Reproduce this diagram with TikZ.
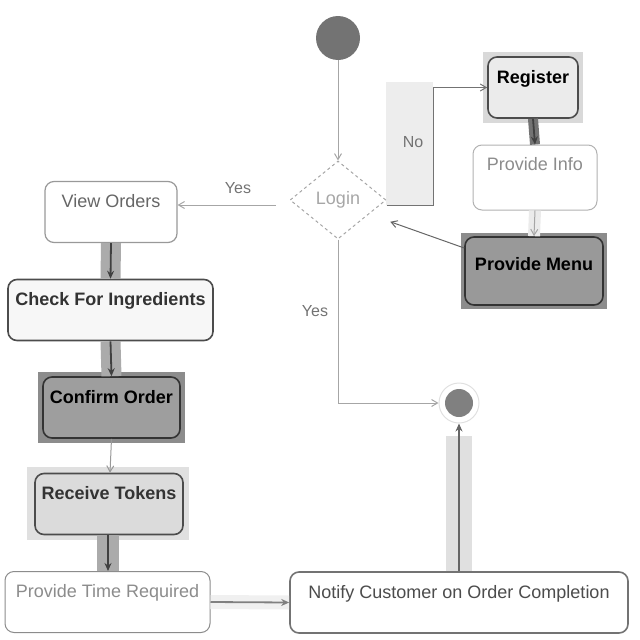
\documentclass[tikz,border=0pt]{standalone}
\usepackage{fontspec}
\setmainfont{Liberation Sans}
\usetikzlibrary{shapes.geometric,backgrounds,arrows.meta}

\tikzset{
  act/.style={rectangle, rounded corners=9pt, draw=black!70, line width=1.6pt,
    fill=white, inner sep=0pt, text height=26pt, text depth=35pt,
    font=\fontsize{18}{20}\selectfont},
  faint/.style={act, draw=black!30, text=black!45, line width=1pt},
  strong/.style={act, font=\fontsize{18}{20}\selectfont\bfseries},
  flow/.style={draw=black!75, line width=1.8pt, -{Stealth[length=8pt,width=7pt]}},
  thinflow/.style={draw=black!35, line width=1pt, -{Straight Barb[length=6pt,width=7pt]}},
  band/.style 2 args={preaction={draw=#1, line width=#2, -}},
  lbl/.style={text=black!55, font=\fontsize{16}{18}\selectfont},
}

\begin{document}
\begin{tikzpicture}[x=1pt,y=-1pt]
\useasboundingbox (0,0) rectangle (640,640);

% start and decision
\node[circle, fill=black!55, minimum size=44pt, inner sep=0pt] (start) at (338,38) {};
\node[diamond, draw=black!35, dashed, line width=1pt, minimum width=96pt, minimum height=78pt,
      inner sep=0pt, text=black!35, font=\fontsize{18}{20}\selectfont] (login) at (338,200) {Login};

% registration branch
\node[strong, fill=black!8, minimum width=90pt] (register) at (533,87.5) {Register};
\node[faint, minimum width=124pt, text height=25pt, text depth=40pt] (info) at (535,177.5) {Provide Info};
\node[strong, fill=black!40, draw=black!80, minimum width=138pt, text height=33pt, text depth=35pt] (menu) at (534,271) {Provide Menu};

% staff side
\node[act, draw=black!40, text=black!60, line width=1.2pt, minimum width=132pt] (view) at (111,212) {View Orders};
\node[strong, fill=black!3, text=black!80, minimum width=205pt] (check) at (110.5,310) {Check For Ingredients};
\node[strong, fill=black!38, draw=black!80, minimum width=137pt] (confirm) at (111.5,407.5) {Confirm Order};
\node[strong, fill=black!14, text=black!80, minimum width=148pt] (tokens) at (109,504) {Receive Tokens};
\node[faint, draw=black!45, minimum width=205pt] (time) at (107.5,602) {Provide Time Required};
\node[act, draw=black!55, text=black!70, minimum width=338pt] (notify) at (459,602.5) {Notify Customer on Order Completion};

% final node
\node[circle, draw=black!12, line width=1pt, minimum size=40pt, inner sep=0pt] (final) at (459,403) {};
\node[circle, fill=black!50, minimum size=28pt, inner sep=0pt] (finaldot) at (final) {};

% selection shading
\begin{scope}[on background layer]
\fill[black!15] ([shift={(-4,-4)}]register.north west) rectangle ([shift={(4,4)}]register.south east);
\fill[black!45] ([shift={(-3,-3)}]menu.north west) rectangle ([shift={(3,3)}]menu.south east);
\fill[black!45] ([shift={(-4,-4)}]confirm.north west) rectangle ([shift={(4,4)}]confirm.south east);
\fill[black!12] ([shift={(-7,-6)}]tokens.north west) rectangle ([shift={(5,5)}]tokens.south east);
\fill[black!7] (386,82) rectangle (433,205);
\end{scope}

% connectors
\draw[thinflow] (start) -- (login.north);
\draw[thinflow, draw=black!55] ([yshift=-5pt]login.east) -- ++(47,0) |- (register.west);
\node[lbl] (no) at (413,142) {No};
\draw[flow, band={black!55}{10pt}] (register.south) -- (info.north);
\draw[thinflow, band={black!8}{12pt}] (info.south) -- (menu.north);
\draw[thinflow, draw=black!60] ([yshift=23pt]menu.west) -- ([xshift=28pt,yshift=-2pt]login.south east);
\draw[thinflow] ([xshift=-14pt,yshift=-5pt]login.west) -- ([yshift=7pt]view.east);
\node[lbl] (yes1) at (238,188) {Yes};
\draw[thinflow] (login.south) |- (final.west);
\node[lbl] (yes2) at (315,311) {Yes};
\draw[flow, band={black!33}{20pt}] (view.south) -- (check.north);
\draw[flow, band={black!33}{20pt}] (check.south) -- (confirm.north);
\draw[thinflow, draw=black!40] (confirm.south) -- ([xshift=1pt]tokens.north);
\draw[flow, band={black!33}{22pt}] ([xshift=-1pt]tokens.south) -- ([xshift=0.5pt]time.north);
\draw[flow, draw=black!50, band={black!6}{14pt}] (time.east) -- (notify.west);
\draw[flow, draw=black!60, preaction={draw=black!12, line width=26pt, -, shorten >=12pt}] (notify.north) -- (final.south);
\end{tikzpicture}
\end{document}
